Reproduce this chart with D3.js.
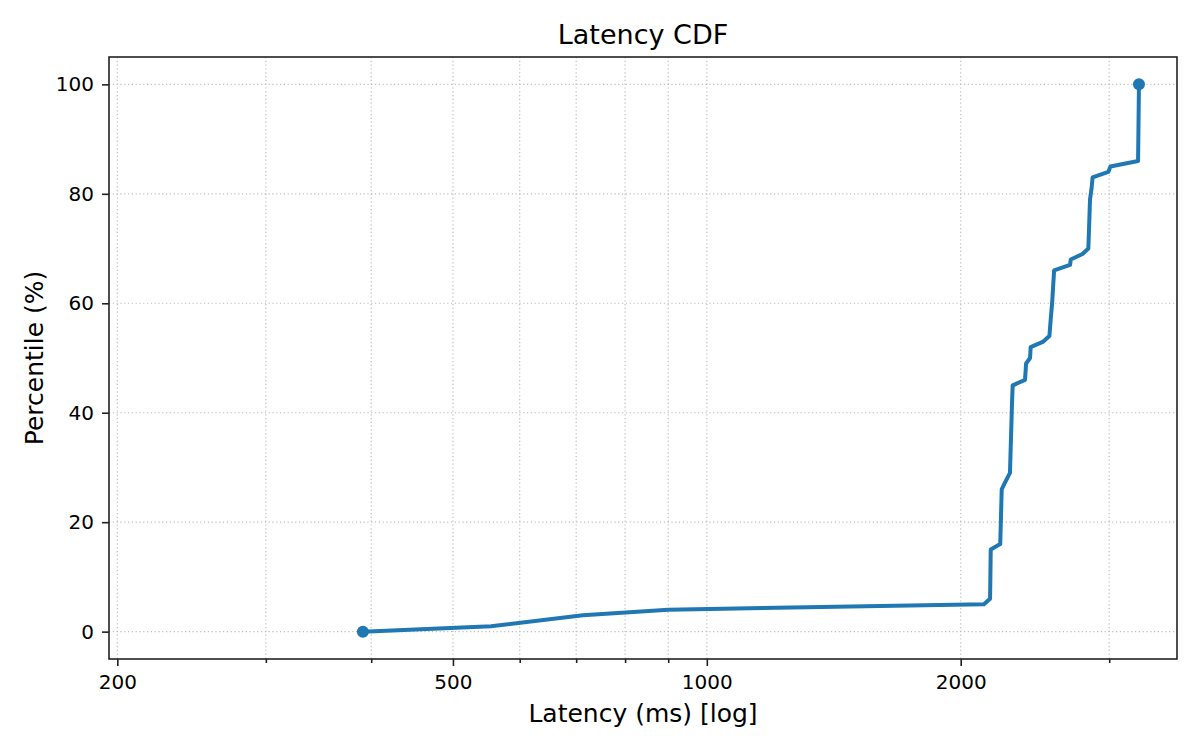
<html>
<head>
<script src="https://d3js.org/d3.v7.min.js"></script>
<style>
  body { margin: 0; background: #fff; }
  text { font-family: "DejaVu Sans", sans-serif; fill: #000; }
</style>
</head>
<body>
<div id="chart"></div>
<script>

// sorted latency samples (ms) and the percentile reached at each one
const latencyMs = [391, 555, 713, 900, 2131, 2167, 2171, 2228, 2237, 2253, 2288, 2301, 2305,
  2384, 2391, 2417, 2421, 2506, 2548, 2557, 2567, 2581, 2696, 2701, 2789, 2834, 2847, 2859,
  2867, 2993, 3010, 3246, 3254];
const percentile = [0, 1, 3, 4, 5, 6, 15, 16, 26, 27, 29, 42, 45,
  46, 49, 50, 52, 53, 54, 57, 60, 66, 67, 68, 69, 70, 79, 81,
  83, 84, 85, 86, 100];

const xMajorTicks = [200, 500, 1000, 2000];
const xMinorTicks = [300, 400, 600, 700, 800, 900, 3000];
const yTicks = [0, 20, 40, 60, 80, 100];

const W = 1200, H = 750;
const margin = { top: 57, right: 23, bottom: 91, left: 109 };
const width = W - margin.left - margin.right,
  height = H - margin.top - margin.bottom;

const data = latencyMs.map((v, i) => ({ x: v, y: percentile[i] }));

const svg = d3.select("#chart")
  .append("svg")
  .attr("width", W)
  .attr("height", H);

const g = svg.append("g")
  .attr("transform", "translate(" + margin.left + "," + margin.top + ")");

const x = d3.scaleLog()
  .domain([195.5, 3610])
  .range([0, width]);

const y = d3.scaleLinear()
  .domain([-5, 105])
  .range([height, 0]);

// grid (dotted, major + minor on x)
const gridStyle = sel => sel.attr("stroke", "#bdbdbd")
  .attr("stroke-width", 1.2)
  .attr("stroke-dasharray", "1.2,2.6");

g.append("g").selectAll("line")
  .data(xMajorTicks.concat(xMinorTicks))
  .enter().append("line")
  .attr("x1", d => x(d)).attr("x2", d => x(d))
  .attr("y1", 0).attr("y2", height)
  .call(gridStyle);

g.append("g").selectAll("line")
  .data(yTicks)
  .enter().append("line")
  .attr("x1", 0).attr("x2", width)
  .attr("y1", d => y(d)).attr("y2", d => y(d))
  .call(gridStyle);

// axes
const xAxis = g.append("g")
  .attr("transform", "translate(0," + height + ")")
  .call(d3.axisBottom(x).tickValues(xMajorTicks).tickFormat(d3.format("d"))
    .tickSize(7).tickPadding(9));

const xMinor = g.append("g")
  .attr("transform", "translate(0," + height + ")")
  .call(d3.axisBottom(x).tickValues(xMinorTicks).tickFormat("").tickSize(4));

const yAxis = g.append("g")
  .call(d3.axisLeft(y).tickValues(yTicks).tickSize(7).tickPadding(8));

[xAxis, xMinor, yAxis].forEach(a => {
  a.select(".domain").remove();
  a.selectAll(".tick line").attr("stroke", "#222").attr("stroke-width", 1.6);
  a.selectAll(".tick text")
    .style("font-family", "DejaVu Sans, sans-serif")
    .style("font-size", "20px")
    .attr("fill", "#000");
});

// frame
g.append("rect")
  .attr("x", 0).attr("y", 0)
  .attr("width", width).attr("height", height)
  .attr("fill", "none")
  .attr("stroke", "#222")
  .attr("stroke-width", 1.6);

// CDF line
const line = d3.line()
  .x(d => x(d.x))
  .y(d => y(d.y));

g.append("path")
  .datum(data)
  .attr("fill", "none")
  .attr("stroke", "#1f77b4")
  .attr("stroke-width", 4)
  .attr("stroke-linejoin", "round")
  .attr("d", line);

// markers on first and last sample
g.selectAll(".endpoint")
  .data([data[0], data[data.length - 1]])
  .enter().append("circle")
  .attr("class", "endpoint")
  .attr("cx", d => x(d.x))
  .attr("cy", d => y(d.y))
  .attr("r", 6)
  .attr("fill", "#1f77b4");

// labels
svg.append("text")
  .attr("x", margin.left + width / 2)
  .attr("y", 44)
  .attr("text-anchor", "middle")
  .style("font-size", "27px")
  .text("Latency CDF");

svg.append("text")
  .attr("x", margin.left + width / 2)
  .attr("y", 722)
  .attr("text-anchor", "middle")
  .style("font-size", "25px")
  .text("Latency (ms) [log]");

svg.append("text")
  .attr("transform", "translate(43," + (margin.top + height / 2) + ") rotate(-90)")
  .attr("text-anchor", "middle")
  .style("font-size", "25px")
  .text("Percentile (%)");

</script>
</body>
</html>
